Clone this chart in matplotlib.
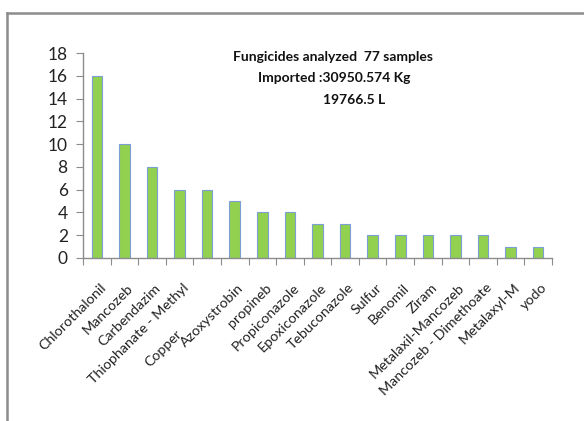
import matplotlib
matplotlib.use("Agg")
import matplotlib.pyplot as plt
from matplotlib.lines import Line2D

categories = ["Chlorothalonil", "Mancozeb", "Carbendazim", "Thiophanate - Methyl",
              "Copper", "Azoxystrobin", "propineb", "Propiconazole", "Epoxiconazole",
              "Tebuconazole", "Sulfur", "Benomil", "Ziram", "Metalaxil-Mancozeb",
              "Mancozeb - Dimethoate", "Metalaxyl-M", "yodo"]
values = [16, 10, 8, 6, 6, 5, 4, 4, 3, 3, 2, 2, 2, 2, 2, 1, 1]
yticks = [0, 2, 4, 6, 8, 10, 12, 14, 16, 18]
annotation = ["Fungicides analyzed  77 samples", "Imported :30950.574 Kg", "19766.5 L"]

plt.rcParams['font.family'] = ['Lato', 'DejaVu Sans']

W, H = 584, 421
fig = plt.figure(figsize=(W / 100, H / 100), dpi=100)
fig.patch.set_facecolor("white")

# outer chart border (left and top visible)
fig.add_artist(Line2D([7 / W, 7 / W], [0, 1 - 13 / H], transform=fig.transFigure,
                      color="#8c8c8c", lw=1.8))
fig.add_artist(Line2D([7 / W, 1], [1 - 13 / H, 1 - 13 / H], transform=fig.transFigure,
                      color="#8c8c8c", lw=1.8))

left, right = 83 / W, 552 / W
bottom, top = 1 - 258 / H, 1 - 53 / H
ax = fig.add_axes([left, bottom, right - left, top - bottom])

x = list(range(len(categories)))
ax.bar(x, values, width=0.38, color="#92D050", edgecolor="#7a9fd4", linewidth=0.8)

ax.set_xlim(-0.5, len(categories) - 0.5)
ax.set_ylim(0, 18)
ax.set_yticks(yticks)
ax.set_yticklabels([str(t) for t in yticks], fontsize=12.5, color="#222222")

# category boundary ticks
ax.set_xticks([i - 0.5 for i in range(len(categories) + 1)])
ax.set_xticklabels([])
ax.tick_params(axis="x", which="major", length=5, color="#8c8c8c", direction="out")
ax.tick_params(axis="y", length=5, color="#8c8c8c", direction="out", pad=6)

# rotated category labels; "Copper" sits further down its diagonal in the original
for i, name in enumerate(categories):
    off = (-23, -50) if name == "Copper" else (2, -17)
    ax.annotate(name, xy=(i, 0), xycoords=("data", "axes fraction"),
                xytext=off, textcoords="offset points", rotation=45,
                ha="right", va="top", rotation_mode="anchor",
                fontsize=10.3, color="#222222", annotation_clip=False)

for s in ["top", "right"]:
    ax.spines[s].set_visible(False)
for s in ["left", "bottom"]:
    ax.spines[s].set_color("#8c8c8c")
    ax.spines[s].set_linewidth(1.0)

fig.text(333 / W, 1 - 57 / H, annotation[0], ha="center", va="center",
         fontsize=10, fontweight="bold", color="#111111")
fig.text(334 / W, 1 - 78 / H, annotation[1], ha="center", va="center",
         fontsize=10, fontweight="bold", color="#111111")
fig.text(354 / W, 1 - 100 / H, annotation[2], ha="center", va="center",
         fontsize=10, fontweight="bold", color="#111111")

fig.savefig("out.png", dpi=100, facecolor="white")
